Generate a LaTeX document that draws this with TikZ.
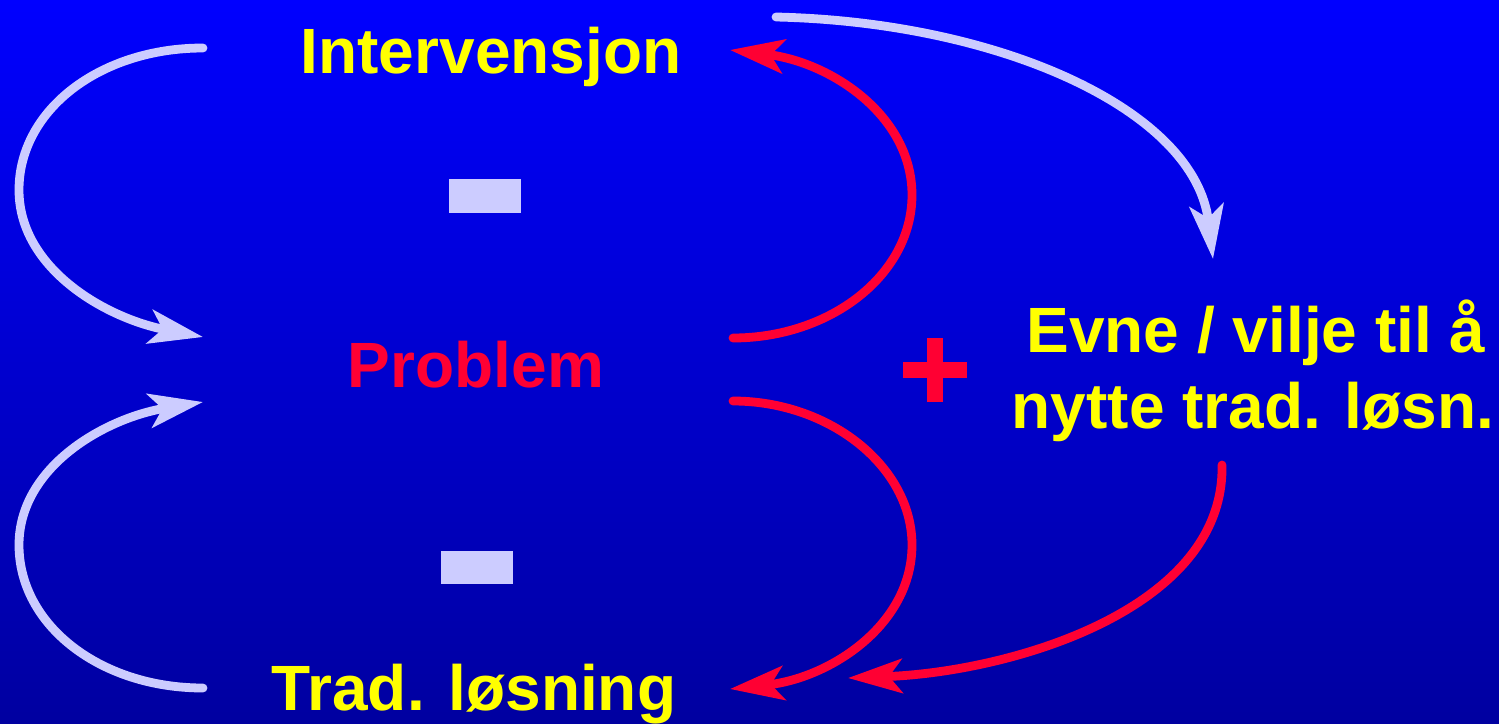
\documentclass[tikz,border=0pt]{standalone}
\usepackage{fontspec}
\setmainfont{Liberation Sans}
\usetikzlibrary{arrows.meta}
\definecolor{bgtop}{RGB}{0,0,255}
\definecolor{bgmid}{RGB}{0,0,238}
\definecolor{bgbot}{RGB}{0,0,160}
\definecolor{lav}{RGB}{204,204,255}
\definecolor{redc}{RGB}{255,0,51}
\definecolor{yel}{RGB}{255,255,0}
\tikzset{
  arr/.style={line width=4.4pt, line cap=round,
    -{Stealth[length=27pt,width=17pt,inset=6.5pt]}},
  lavarr/.style={arr, draw=lav},
  redarr/.style={arr, draw=redc},
  lbl/.style={font=\bfseries\fontsize{32pt}{38pt}\selectfont, inner sep=0pt, anchor=base},
  bar/.style={fill=lav, draw=none}
}
\begin{document}
\begin{tikzpicture}[x=0.5pt,y=-0.5pt]
\shade[top color=bgtop, middle color=bgmid, bottom color=bgbot] (0,0) rectangle (1499,723);
\useasboundingbox (0,0) rectangle (1499,723);
% labels
\node[lbl, text=yel] (interv) at (491,73) {Intervensjon};
\node[lbl, text=redc] (problem) at (476,387) {Problem};
\node[lbl, text=yel] (trad) at (474,710) {Trad. løsning};
\node[lbl, text=yel] (evne1) at (1256,352) {Evne / vilje til å};
\node[lbl, text=yel] (evne2) at (1253,428) {nytte trad. løsn.};
% signs
\fill[bar] (449,179) rectangle (521,213);
\fill[bar] (441,551) rectangle (513,584);
\fill[redc] (927,338) rectangle (943,402);
\fill[redc] (903,362) rectangle (967,378);
% endpoints
\coordinate (a1s) at (203,48);  \coordinate (a1m) at (19,190);  \coordinate (a1e) at (203,337);
\coordinate (a2s) at (203,688); \coordinate (a2m) at (19,545);  \coordinate (a2e) at (203,402);
\coordinate (a3s) at (733,338); \coordinate (a3m) at (912,195); \coordinate (a3e) at (730,50);
\coordinate (a4s) at (733,401); \coordinate (a4m) at (912,545); \coordinate (a4e) at (730,689);
\coordinate (a5s) at (776,17);  \coordinate (a5e) at (1213,259);
\coordinate (a6s) at (1222,465); \coordinate (a6e) at (848,678);
% arrows
\draw[lavarr] (a1s) .. controls (100,48) and (19,110) .. (a1m) .. controls (19,268) and (105,318) .. (a1e);
\draw[lavarr] (a2s) .. controls (100,688) and (19,625) .. (a2m) .. controls (19,467) and (105,418) .. (a2e);
\draw[redarr] (a3s) .. controls (830,338) and (912,275) .. (a3m) .. controls (912,115) and (830,62) .. (a3e);
\draw[redarr] (a4s) .. controls (830,401) and (912,467) .. (a4m) .. controls (912,625) and (830,678) .. (a4e);
\draw[lavarr] (a5s) .. controls (1000,22) and (1195,110) .. (a5e);
\draw[redarr] (a6s) .. controls (1225,610) and (1010,672) .. (a6e);
\end{tikzpicture}
\end{document}
